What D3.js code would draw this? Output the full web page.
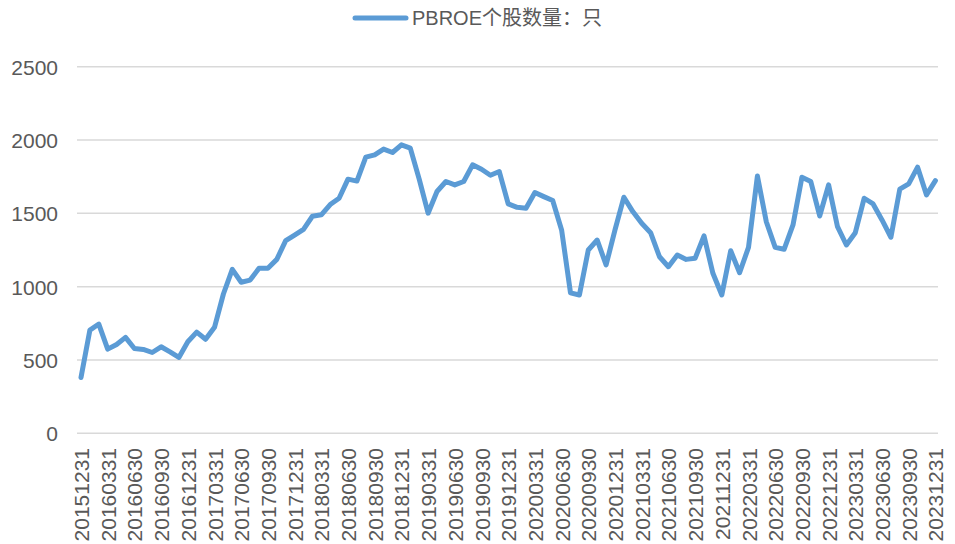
<!DOCTYPE html>
<html>
<head>
<meta charset="utf-8">
<script src="https://cdn.jsdelivr.net/npm/d3@7"></script>
<style>
  body { margin: 0; background: #fff; }
  svg text { font-family: "Liberation Sans", Arial, "Noto Sans CJK SC", sans-serif; fill: #595959; }
</style>
</head>
<body>
<div id="chart"></div>
<script>
// series name
var seriesName = "PBROE个股数量：只";

// month-end dates, 2015-12-31 .. 2023-12-31 (97 months)
var dates = d3.timeMonth.range(new Date(2016, 0, 1), new Date(2024, 1, 1)).map(function (d) {
  return d3.timeDay.offset(d, -1);
});
var fmt = d3.timeFormat("%Y%m%d");
var categories = dates.map(fmt);

// number of stocks
var counts = [
  380, 704, 745, 574, 606, 654, 578, 572, 551, 590, 555, 517,
  624, 690, 641, 723, 950, 1118, 1030, 1045, 1125, 1125, 1186, 1314,
  1352, 1391, 1480, 1490, 1560, 1603, 1733, 1720, 1883, 1899, 1938, 1915,
  1967, 1945, 1733, 1501, 1649, 1717, 1694, 1717, 1831, 1801, 1760, 1785,
  1565, 1541, 1535, 1642, 1614, 1587, 1387, 958, 943, 1250, 1318, 1148,
  1387, 1610, 1512, 1432, 1368, 1204, 1136, 1216, 1186, 1193, 1346, 1091,
  943, 1245, 1095, 1268, 1755, 1443, 1268, 1255, 1421, 1746, 1717, 1482,
  1694, 1409, 1284, 1368, 1603, 1564, 1455, 1337, 1665, 1701, 1815, 1626,
  1723
];

// quarterly tick labels
var tickLabels = categories.filter(function (d, i) { return i % 3 === 0; });
var yTicks = [0, 500, 1000, 1500, 2000, 2500];

var W = 955, H = 544;
var svg = d3.select("#chart").append("svg")
  .attr("width", W)
  .attr("height", H);

var x = d3.scalePoint().domain(categories).range([81, 935.4]);
var y = d3.scaleLinear().domain([0, 2500]).range([433.3, 66.7]);

// gridlines
svg.append("g")
  .selectAll("line")
  .data(yTicks)
  .enter()
  .append("line")
  .attr("x1", 77)
  .attr("x2", 938)
  .attr("y1", function (d) { return y(d); })
  .attr("y2", function (d) { return y(d); })
  .attr("stroke", "#d9d9d9")
  .attr("stroke-width", 1.5);

// y axis labels
var yAxis = svg.append("g")
  .attr("transform", "translate(58,0)")
  .call(d3.axisLeft(y).tickValues(yTicks).tickFormat(d3.format("d")).tickSize(0).tickPadding(0));
yAxis.select(".domain").remove();
yAxis.selectAll("text")
  .attr("font-size", 21)
  .attr("dy", "0.36em")
  .style("font-family", "Liberation Sans, Arial, sans-serif")
  .attr("fill", "#595959");

// x axis labels, rotated
var xAxis = svg.append("g")
  .attr("transform", "translate(0,448)")
  .call(d3.axisBottom(x).tickValues(tickLabels).tickSize(0).tickPadding(0));
xAxis.select(".domain").remove();
xAxis.selectAll("text")
  .attr("font-size", 21)
  .attr("transform", "rotate(-90)")
  .attr("text-anchor", "end")
  .attr("x", 0)
  .attr("y", 0)
  .attr("dy", "0.36em")
  .style("font-family", "Liberation Sans, Arial, sans-serif")
  .attr("fill", "#595959");

// the line
var line = d3.line()
  .x(function (d, i) { return x(categories[i]); })
  .y(function (d) { return y(d); });

svg.append("path")
  .datum(counts)
  .attr("d", line)
  .attr("fill", "none")
  .attr("stroke", "#5B9BD5")
  .attr("stroke-width", 5)
  .attr("stroke-linejoin", "round")
  .attr("stroke-linecap", "round");

// legend
var legend = svg.append("g");
legend.append("line")
  .attr("x1", 355).attr("x2", 406)
  .attr("y1", 18).attr("y2", 18)
  .attr("stroke", "#5B9BD5")
  .attr("stroke-width", 5)
  .attr("stroke-linecap", "round");
legend.append("text")
  .attr("x", 412)
  .attr("y", 25)
  .attr("font-size", 20)
  .text(seriesName);
</script>
</body>
</html>
